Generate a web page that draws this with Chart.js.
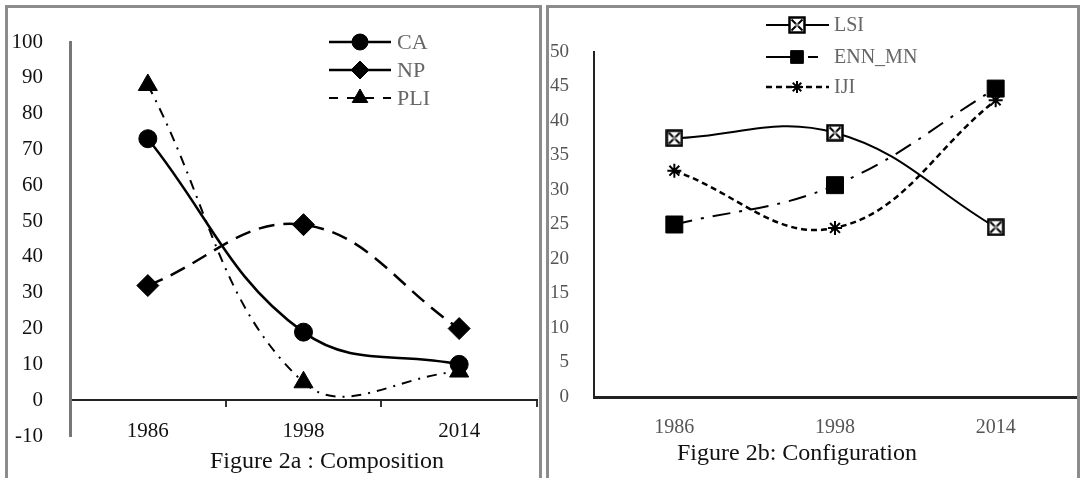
<!DOCTYPE html>
<html><head><meta charset="utf-8">
<script src="https://cdn.jsdelivr.net/npm/chart.js@4/dist/chart.umd.min.js"></script>
<style>
html,body{margin:0;padding:0;background:#fff;width:1082px;height:478px;overflow:hidden;position:relative}
.frame{position:absolute;box-sizing:border-box;border:3px solid #8c8c8c;border-bottom:2px solid #c8c8c8}
#f1{left:5px;top:5px;width:537px;height:476px}
#f2{left:546px;top:5px;width:534px;height:476px}
.wrap{position:absolute;top:0;width:541px;height:478px}
#w1{left:0}
#w2{left:541px}
.cap{position:absolute;font-family:"Liberation Serif",serif;font-size:24px;line-height:24px;color:#111;white-space:nowrap;transform:translateX(-50%)}
</style>
</head><body>
<div class="frame" id="f1"></div>
<div class="frame" id="f2"></div>
<div class="wrap" id="w1"><canvas id="c1" width="541" height="478"></canvas></div>
<div class="wrap" id="w2"><canvas id="c2" width="541" height="478"></canvas></div>
<div class="cap" style="left:327px;top:448px">Figure 2a : Composition</div>
<div class="cap" style="left:797px;top:440px">Figure 2b: Configuration</div>
<script>
// ---- data ----
const years = ['1986', '1998', '2014'];
const CA = [73, 19, 10];
const NP = [32, 49, 20];
const PLI = [88, 5, 8];
const LSI = [37.5, 38.3, 24.6];
const ENN_MN = [25, 30.7, 44.7];
const IJI = [32.8, 24.5, 43];
const leftRange = [-10, 100, 10];
const rightRange = [0, 50, 5];

const SERIF = '"Liberation Serif", "Times New Roman", serif';

function boxX(size) {
  const c = document.createElement('canvas');
  c.width = c.height = size;
  const g = c.getContext('2d');
  g.fillStyle = '#fff'; g.fillRect(1, 1, size - 2, size - 2);
  g.strokeStyle = '#000'; g.lineWidth = 2.5; g.strokeRect(1.5, 1.5, size - 3, size - 3);
  g.lineWidth = 2; g.beginPath();
  g.moveTo(3.5, 3.5); g.lineTo(size - 3.5, size - 3.5);
  g.moveTo(size - 3.5, 3.5); g.lineTo(3.5, size - 3.5); g.stroke();
  g.fillStyle = '#888'; g.beginPath(); g.arc(size / 2, size / 2, 2, 0, Math.PI * 2); g.fill();
  return c;
}

function legendPlugin(cfg) {
  return {
    id: 'customLegend',
    afterDraw(chart) {
      const ctx = chart.ctx;
      chart.data.datasets.forEach((ds, i) => {
        const y = cfg.rows[i];
        ctx.save();
        ctx.strokeStyle = '#000';
        ctx.lineWidth = ds.borderWidth;
        ctx.setLineDash(ds.legendDash || ds.borderDash || []);
        ctx.beginPath(); ctx.moveTo(cfg.x0, y); ctx.lineTo(cfg.x1, y); ctx.stroke();
        ctx.setLineDash([]);
        ctx.fillStyle = ds.pointBackgroundColor;
        ctx.strokeStyle = ds.pointBorderColor;
        ctx.lineWidth = ds.pointBorderWidth || 1;
        Chart.helpers.drawPoint(ctx, {pointStyle: ds.pointStyle, radius: ds.legendPointRadius || ds.pointRadius, borderWidth: ds.pointBorderWidth || 1, rotation: 0}, cfg.mx, y);
        ctx.fillStyle = cfg.color;
        ctx.font = cfg.font;
        ctx.textBaseline = 'middle';
        ctx.textAlign = 'left';
        ctx.fillText(ds.label, cfg.tx, y + 1);
        ctx.restore();
      });
    }
  };
}

const common = {
  responsive: false, animation: false, events: [],
  plugins: {legend: {display: false}, tooltip: {enabled: false}, title: {display: false}}
};

function noSidePad(s) { s.paddingLeft = 0; s.paddingRight = 0; }

new Chart(document.getElementById('c1'), {
  type: 'line',
  data: {
    labels: years,
    datasets: [
      {label: 'CA', data: CA, borderColor: '#000', borderWidth: 2.5, tension: 0.4, fill: false,
       pointStyle: 'circle', pointRadius: 9, pointBackgroundColor: '#000', pointBorderColor: '#000', pointBorderWidth: 1,
       legendPointRadius: 8},
      {label: 'NP', data: NP, borderColor: '#000', borderWidth: 2.5, borderDash: [16, 9], legendDash: [], tension: 0.4, fill: false,
       pointStyle: 'rectRot', pointRadius: 11, pointBackgroundColor: '#000', pointBorderColor: '#000', pointBorderWidth: 1,
       legendPointRadius: 9},
      {label: 'PLI', data: PLI, borderColor: '#000', borderWidth: 2, borderDash: [10, 7, 2, 7], legendDash: [9, 9], tension: 0.4, fill: false,
       pointStyle: 'triangle', pointRadius: 11, pointBackgroundColor: '#000', pointBorderColor: '#000', pointBorderWidth: 1,
       legendPointRadius: 9}
    ]
  },
  options: Object.assign({}, common, {
    layout: {autoPadding: false, padding: {left: 0, right: 4, top: 42, bottom: 42}},
    scales: {
      x: {
        type: 'category', position: {y: 0}, offset: true,
        grid: {display: true, drawOnChartArea: false, drawTicks: true, tickLength: 6, color: '#333', lineWidth: 2, offset: true},
        border: {display: true, color: '#222', width: 2},
        ticks: {color: '#111', font: {family: SERIF, size: 21}, padding: 13, maxRotation: 0, autoSkip: false},
        afterFit: noSidePad
      },
      y: {
        min: leftRange[0], max: leftRange[1],
        ticks: {stepSize: leftRange[2], color: '#111', font: {family: SERIF, size: 21}, padding: 19},
        grid: {display: false},
        border: {display: true, color: '#777', width: 3},
        afterFit(s) { s.width = 70; }
      }
    }
  }),
  plugins: [legendPlugin({rows: [42, 70, 98], x0: 329, x1: 391, mx: 360, tx: 397, color: '#666', font: '22px ' + SERIF})]
});

const lsiMark = boxX(18);

new Chart(document.getElementById('c2'), {
  type: 'line',
  data: {
    labels: years,
    datasets: [
      {label: 'LSI', data: LSI, borderColor: '#000', borderWidth: 2, tension: 0.4, fill: false,
       pointStyle: lsiMark, pointRadius: 9, pointBackgroundColor: '#fff', pointBorderColor: '#000', pointBorderWidth: 1},
      {label: 'ENN_MN', data: ENN_MN, borderColor: '#000', borderWidth: 2, borderDash: [18, 9, 3, 9], legendDash: [34, 8, 10, 50], tension: 0.4, fill: false,
       pointStyle: 'rect', pointRadius: 12, pointBackgroundColor: '#000', pointBorderColor: '#000', pointBorderWidth: 1,
       legendPointRadius: 9},
      {label: 'IJI', data: IJI, borderColor: '#000', borderWidth: 2.5, borderDash: [6, 4], tension: 0.4, fill: false,
       pointStyle: 'star', pointRadius: 7, pointBackgroundColor: '#000', pointBorderColor: '#000', pointBorderWidth: 2,
       legendPointRadius: 6}
    ]
  },
  options: Object.assign({}, common, {
    layout: {autoPadding: false, padding: {left: 0, right: 6, top: 52, bottom: 21}},
    scales: {
      x: {
        type: 'category', position: 'bottom', offset: true,
        grid: {display: false},
        border: {display: true, color: '#222', width: 3},
        ticks: {color: '#555', font: {family: SERIF, size: 20}, padding: 11, maxRotation: 0, autoSkip: false},
        afterFit(s) { s.height = 60; noSidePad(s); }
      },
      y: {
        min: rightRange[0], max: rightRange[1],
        ticks: {stepSize: rightRange[2], color: '#555', font: {family: SERIF, size: 19}, padding: 17},
        grid: {display: false},
        border: {display: true, color: '#222', width: 2},
        afterFit(s) { s.width = 53; }
      }
    }
  }),
  plugins: [legendPlugin({rows: [25, 57, 87], x0: 225, x1: 288, mx: 256, tx: 293, color: '#666', font: '20px ' + SERIF})]
});
</script>
</body></html>
